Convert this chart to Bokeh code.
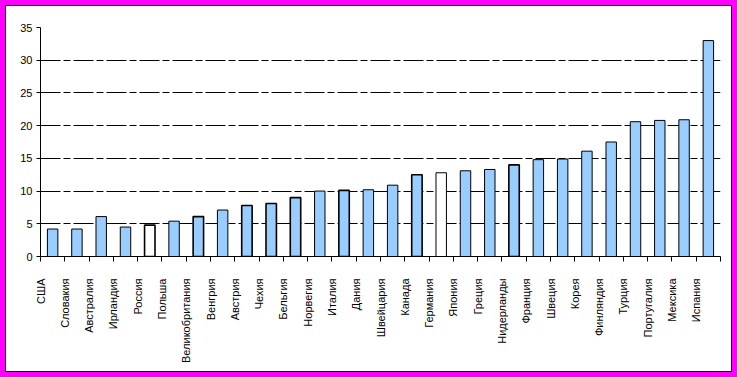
import math
from bokeh.plotting import figure
from bokeh.models import ColumnDataSource, FixedTicker, LinearAxis, Range1d, Grid
from bokeh.embed import file_html
from bokeh.resources import INLINE

countries = ["США", "Словакия", "Австралия", "Ирландия", "Россия", "Польша",
             "Великобритания", "Венгрия", "Австрия", "Чехия", "Бельгия", "Норвегия",
             "Италия", "Дания", "Швейцария", "Канада", "Германия", "Япония", "Греция",
             "Нидерланды", "Франция", "Швеция", "Корея", "Финляндия", "Турция",
             "Португалия", "Мексика", "Испания"]
values = [4.2, 4.2, 6.1, 4.5, 4.8, 5.4, 6.1, 7.1, 7.8, 8.1, 9.0, 10.0,
          10.1, 10.2, 10.9, 12.5, 12.8, 13.1, 13.3, 14.0, 14.8, 14.9, 16.1, 17.5,
          20.6, 20.8, 20.9, 33.0]
white_bars = ["Россия", "Германия"]
heavy_outline = ["Россия", "Великобритания", "Австрия", "Чехия", "Бельгия",
                 "Италия", "Канада", "Нидерланды"]
y_ticks = [0, 5, 10, 15, 20, 25, 30, 35]

BLUE = "#99CCFF"
FONT = "Liberation Sans"

n = len(countries)
src = ColumnDataSource(dict(
    x=[i + 0.5 for i in range(n)],
    top=values,
    fill=["#FFFFFF" if c in white_bars else BLUE for c in countries],
    lw=[1.6 if c in heavy_outline else 1 for c in countries],
))

p = figure(width=725, height=365, output_backend="svg", toolbar_location=None,
           x_range=Range1d(0, n), y_range=Range1d(0, 35),
           x_axis_type=None, y_axis_type=None,
           min_border_left=34, min_border_right=11, min_border_top=21,
           min_border_bottom=115, margin=(6, 6, 6, 6))
p.styles = {"box-shadow": "0 0 0 1px #000000, 0 0 0 6px #FF00FF"}
p.outline_line_color = None
p.background_fill_color = "white"
p.border_fill_color = "white"

yaxis = LinearAxis(ticker=FixedTicker(ticks=y_ticks))
yaxis.axis_line_color = "black"
yaxis.major_tick_line_color = "black"
yaxis.major_tick_out = 4
yaxis.major_tick_in = 0
yaxis.minor_tick_line_color = None
yaxis.major_label_standoff = 4
yaxis.major_label_text_font = FONT
yaxis.major_label_text_font_size = "11px"
yaxis.major_label_text_color = "black"
p.add_layout(yaxis, "left")

xaxis = LinearAxis(ticker=FixedTicker(ticks=list(range(n + 1))))
xaxis.major_label_overrides = {i: c for i, c in enumerate(countries)} | {n: ""}
xaxis.major_label_orientation = math.pi / 2
xaxis.axis_line_color = "black"
xaxis.major_tick_line_color = "black"
xaxis.major_tick_out = 5
xaxis.major_tick_in = 0
xaxis.minor_tick_line_color = None
xaxis.major_label_standoff = 17
xaxis.major_label_text_font = FONT
xaxis.major_label_text_font_size = "11px"
xaxis.major_label_text_color = "black"
p.add_layout(xaxis, "below")

grid = Grid(dimension=1, ticker=FixedTicker(ticks=y_ticks[1:]))
grid.grid_line_color = "black"
grid.grid_line_dash = "20 3 7 3"
grid.grid_line_width = 1
p.add_layout(grid)

p.vbar(x="x", top="top", width=0.43, source=src, fill_color="fill",
       line_color="black", line_width="lw")

open("out.html", "w").write(file_html(p, INLINE))
